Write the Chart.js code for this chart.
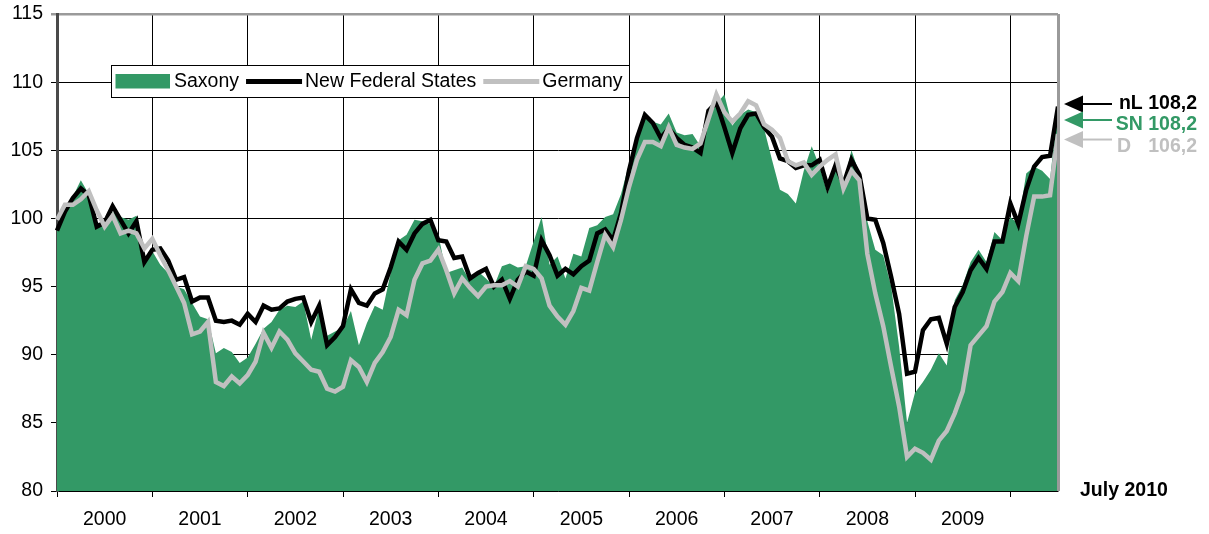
<!DOCTYPE html>
<html>
<head>
<meta charset="utf-8">
<script src="https://cdn.jsdelivr.net/npm/chart.js@4.4.0/dist/chart.umd.min.js"></script>
<style>
html,body{margin:0;padding:0;background:#fff;}
canvas{display:block;}
</style>
</head>
<body>
<canvas id="c" width="1209" height="534" style="width:1209px;height:534px"></canvas>
<script>
// ---- categories ----
const years = ['2000','2001','2002','2003','2004','2005','2006','2007','2008','2009','2010'];
const lastMonthLabel = 'July 2010';
const monthsInLastYear = 7;

// ---- series values (index, monthly, Jan 2000 – Jul 2010) ----
const saxony = [
  99.3,100.6,101.6,102.8,101.8,99.7,99.6,100.5,100.1,99.9,100.2,97.0,
  97.6,96.6,96.0,95.0,94.8,93.8,92.8,92.6,90.1,90.5,90.2,89.4,
  89.8,90.8,91.9,92.4,93.3,93.6,93.5,93.9,91.1,93.5,91.4,91.7,
  92.0,93.2,90.7,92.3,93.6,93.3,96.0,98.4,98.8,99.9,99.8,99.6,
  98.8,96.0,96.2,96.4,95.4,96.1,95.6,95.0,96.5,96.7,96.4,96.5,
  98.3,100.1,96.6,97.2,95.6,97.4,97.2,99.3,99.5,100.1,100.3,101.8,
  104.0,106.0,107.5,107.1,106.9,107.7,106.3,106.1,106.2,105.3,107.6,108.4,
  109.1,106.8,107.6,108.0,107.8,106.6,104.3,102.1,101.8,101.1,103.5,105.3,
  103.8,101.8,104.3,102.5,105.0,103.3,99.8,97.7,97.3,95.0,90.6,85.0,
  87.2,88.0,88.9,90.1,89.2,94.0,95.1,96.8,97.7,96.8,99.0,98.4,
  100.1,99.6,103.3,103.8,103.5,102.9,108.2
];
const newFederalStates = [
  99.1,100.5,101.5,102.2,101.7,99.4,99.7,100.9,99.9,98.9,99.8,96.8,
  97.7,97.8,96.9,95.5,95.7,93.9,94.2,94.2,92.5,92.4,92.5,92.2,
  93.0,92.4,93.6,93.3,93.4,93.9,94.1,94.2,92.4,93.6,90.7,91.3,
  92.1,94.8,93.8,93.6,94.5,94.8,96.4,98.3,97.7,98.9,99.6,99.9,
  98.4,98.3,97.1,97.2,95.6,96.0,96.3,95.0,95.5,94.1,95.5,96.1,
  95.8,98.4,97.3,95.8,96.3,95.9,96.5,96.9,98.9,99.2,98.4,100.4,
  103.5,105.9,107.6,107.0,105.9,106.6,105.9,105.4,105.2,104.8,107.9,108.5,
  106.7,104.8,106.6,107.6,107.7,106.7,106.0,104.4,104.2,103.7,103.9,103.9,
  104.3,102.3,103.9,102.5,104.3,103.2,100.0,99.9,98.2,95.7,93.0,88.6,
  88.75,91.8,92.6,92.7,90.8,93.5,94.6,96.2,97.1,96.3,98.3,98.3,
  101.1,99.6,102.1,103.8,104.5,104.6,108.2
];
const germany = [
  99.9,101.0,101.0,101.4,102.0,100.6,99.4,100.2,98.9,99.1,98.9,97.8,
  98.5,97.3,96.2,95.0,93.8,91.5,91.7,92.4,88.0,87.7,88.4,87.9,
  88.5,89.5,91.6,90.5,91.7,91.1,90.1,89.5,88.9,88.75,87.5,87.3,
  87.65,89.6,89.1,88.0,89.4,90.2,91.3,93.3,92.9,95.5,96.7,96.9,
  97.7,96.2,94.5,95.6,94.9,94.3,95.0,95.1,95.1,95.4,95.0,96.5,
  96.3,95.6,93.6,92.8,92.2,93.2,94.9,94.7,96.8,98.8,97.9,99.9,
  102.3,104.3,105.6,105.6,105.3,106.7,105.4,105.2,105.1,105.5,107.3,109.1,
  107.8,107.1,107.7,108.6,108.3,106.9,106.5,105.9,104.2,103.9,104.1,103.2,
  103.8,104.3,104.7,102.2,103.5,102.8,97.4,94.5,92.1,89.1,86.2,82.5,
  83.1,82.8,82.3,83.7,84.4,85.7,87.3,90.7,91.4,92.1,93.9,94.6,
  96.0,95.4,98.7,101.6,101.6,101.7,106.2
];

// ---- tick settings ----
const yMin = 80, yMax = 115, yStep = 5;

// ---- series names / short labels ----
const seriesNames = ['Saxony', 'New Federal States', 'Germany'];
const shortNames = ['SN', 'nL', 'D'];

const GREEN = '#339966', BLACK = '#000000', GRAY = '#C0C0C0';
const FONT = '"Liberation Sans", Arial, sans-serif';
const FS = 19.5;

// build month category labels
const categories = [];
years.forEach((y, yi) => {
  const n = (yi === years.length - 1) ? monthsInLastYear : 12;
  for (let m = 1; m <= n; m++) categories.push(y + '-' + String(m).padStart(2, '0'));
});

const fmt = v => v.toFixed(1).replace('.', ',');

const extras = {
  id: 'extras',
  afterDraw(chart) {
    const { ctx, chartArea: a, scales: { y } } = chart;
    ctx.save();
    // right plot border
    ctx.strokeStyle = '#9a9a9a';
    ctx.lineWidth = 3;
    ctx.beginPath();
    ctx.moveTo(a.right + 0.5, a.top);
    ctx.lineTo(a.right + 0.5, a.bottom);
    ctx.stroke();

    // legend box
    const lx = 111, ly = 65, lw = 518, lh = 32;
    ctx.fillStyle = '#fff';
    ctx.fillRect(lx, ly, lw, lh);
    ctx.strokeStyle = '#000';
    ctx.lineWidth = 1;
    ctx.strokeRect(lx + 0.5, ly + 0.5, lw, lh);
    ctx.font = FS + 'px ' + FONT;
    ctx.textBaseline = 'middle';
    ctx.textAlign = 'left';
    const cy = ly + lh / 2 + 0.5;
    let x = lx + 4.5;
    ctx.fillStyle = GREEN;
    ctx.fillRect(x, cy - 7.5, 54.5, 14.5);
    x += 58.5;
    ctx.fillStyle = '#000';
    ctx.fillText(seriesNames[0], x, cy);
    x += ctx.measureText(seriesNames[0]).width + 7;
    ctx.fillStyle = BLACK;
    ctx.fillRect(x, cy - 2.5, 56, 5);
    x += 59;
    ctx.fillStyle = '#000';
    ctx.fillText(seriesNames[1], x, cy);
    x += ctx.measureText(seriesNames[1]).width + 7;
    ctx.fillStyle = GRAY;
    ctx.fillRect(x, cy - 2.5, 56, 5);
    x += 59;
    ctx.fillStyle = '#000';
    ctx.fillText(seriesNames[2], x, cy);

    // end-value annotations
    const last = arr => arr[arr.length - 1];
    const items = [
      { v: last(newFederalStates), color: BLACK, name: shortNames[1], dy: -2.7, tdy: -0.7, sep: ' ' },
      { v: last(saxony), color: GREEN, name: shortNames[0], dy: 13.3, tdy: 5, sep: ' ' },
      { v: last(germany), color: GRAY, name: shortNames[2], dy: 5.6, tdy: 7, sep: null }
    ];
    const tipX = a.right + 6, baseX = a.right + 25, lineEnd = a.right + 54;
    const textRight = 1197;
    ctx.font = 'bold ' + FS + 'px ' + FONT;
    items.forEach(it => {
      const yy = y.getPixelForValue(it.v) + it.dy;
      ctx.fillStyle = it.color;
      ctx.strokeStyle = it.color;
      ctx.beginPath();
      ctx.moveTo(tipX, yy);
      ctx.lineTo(baseX, yy - 8.5);
      ctx.lineTo(baseX, yy + 8.5);
      ctx.closePath();
      ctx.fill();
      ctx.lineWidth = 2;
      ctx.beginPath();
      ctx.moveTo(baseX, yy);
      ctx.lineTo(lineEnd, yy);
      ctx.stroke();
      const ty = yy + it.tdy;
      if (it.sep) {
        ctx.textAlign = 'right';
        ctx.fillText(it.name + it.sep + fmt(it.v), textRight, ty);
      } else {
        ctx.textAlign = 'left';
        ctx.fillText(it.name, 1117, ty);
        ctx.textAlign = 'right';
        ctx.fillText(fmt(it.v), textRight, ty);
      }
    });

    // "July 2010"
    ctx.fillStyle = '#000';
    ctx.textAlign = 'left';
    ctx.fillText(lastMonthLabel, a.right + 22, a.bottom);
    ctx.restore();
  }
};

Chart.defaults.font.family = FONT;
Chart.defaults.font.size = FS;
Chart.defaults.color = '#000';

new Chart(document.getElementById('c'), {
  type: 'line',
  data: {
    labels: categories,
    datasets: [
      { label: seriesNames[0], data: saxony, backgroundColor: GREEN, borderColor: GREEN, borderWidth: 0,
        fill: 'start', pointRadius: 0, tension: 0, order: 3 },
      { label: seriesNames[1], data: newFederalStates, borderColor: BLACK, borderWidth: 4.5,
        fill: false, pointRadius: 0, tension: 0, order: 2 },
      { label: seriesNames[2], data: germany, borderColor: GRAY, borderWidth: 4.5,
        fill: false, pointRadius: 0, tension: 0, order: 1 }
    ]
  },
  options: {
    responsive: false,
    animation: false,
    devicePixelRatio: 1,
    layout: { padding: { left: 0, right: 151, top: 14, bottom: 0 } },
    plugins: { legend: { display: false }, tooltip: { enabled: false } },
    scales: {
      x: {
        type: 'category',
        offset: false,
        grid: {
          color: c => (c.index % 12 === 0 && c.index < categories.length - 1) ? '#000' : 'rgba(0,0,0,0)',
          lineWidth: 1,
          tickLength: 6,
          drawOnChartArea: true
        },
        border: { color: '#000', width: 1.5 },
        ticks: {
          autoSkip: false,
          maxRotation: 0,
          minRotation: 0,
          padding: 11,
          callback: function (v, i) {
            return (i % 12 === 6 && Math.floor(i / 12) < years.length - 1) ? years[Math.floor(i / 12)] : '';
          }
        },
        afterFit: s => { s.height = 43; s.paddingLeft = 0; s.paddingRight = 0; }
      },
      y: {
        min: yMin, max: yMax,
        grid: {
          color: c => (c.tick && c.tick.value === yMax) ? '#9a9a9a' : '#000',
          lineWidth: c => (c.tick && c.tick.value === yMax) ? 2.5 : 1,
          tickLength: 6
        },
        border: { color: '#4a4a4a', width: 3 },
        ticks: { stepSize: yStep, padding: 8 },
        afterFit: s => { s.width = 57; s.paddingTop = 0; s.paddingBottom = 0; }
      }
    }
  },
  plugins: [extras]
});
</script>
</body>
</html>
